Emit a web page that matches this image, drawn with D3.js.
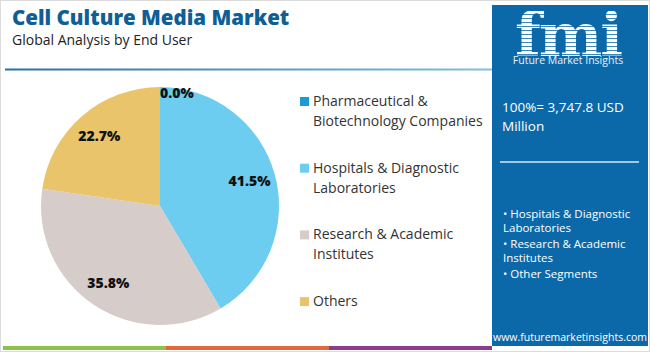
<!DOCTYPE html>
<html>
<head>
<meta charset="utf-8">
<script src="https://cdn.jsdelivr.net/npm/d3@7"></script>
<style>
  body { margin: 0; background: #fff; }
  svg { display: block; font-family: "Open Sans", sans-serif; }
</style>
</head>
<body>
<svg class="chart"></svg>
<script>
// Chart size
var width = 650;
var height = 352;

// Data
var categories = ["Pharmaceutical & Biotechnology Companies", "Hospitals & Diagnostic Laboratories", "Research & Academic Institutes", "Others"];
var legendLines = [["Pharmaceutical &", "Biotechnology Companies"], ["Hospitals & Diagnostic", "Laboratories"], ["Research & Academic", "Institutes"], ["Others"]];
var shares = [0.0, 41.5, 35.8, 22.7];
var sliceColors = ["#1b9ad7", "#6ccdf0", "#d6ccc9", "#e9c46a"];
var bulletLines = [["• Hospitals & Diagnostic", "Laboratories"], ["• Research & Academic", "Institutes"], ["• Other Segments"]];
var stripColors = ["#8bc34a", "#e0683a", "#8e3b8f"];

var svg = d3.select(".chart")
    .attr("width", width)
    .attr("height", height);

// light frame round the picture
svg.append("rect")
    .attr("x", 0.5).attr("y", 0.5)
    .attr("width", width - 1).attr("height", height - 1)
    .attr("fill", "#fff")
    .attr("stroke", "#dcdcdc");

// Title block
svg.append("text")
    .attr("x", 12).attr("y", 25)
    .attr("fill", "#0f5e96")
    .style("font-family", "'Open Sans', sans-serif")
    .style("font-weight", 800)
    .style("font-size", "20.5px")
    .text("Cell Culture Media Market");

svg.append("text")
    .attr("x", 12).attr("y", 45)
    .attr("fill", "#222")
    .style("font-size", "14px")
    .text("Global Analysis by End User");

// underline with a soft gradient
var defs = svg.append("defs");
var grad = defs.append("linearGradient").attr("id", "lineGrad");
grad.append("stop").attr("offset", "0%").attr("stop-color", "#2a6fa8");
grad.append("stop").attr("offset", "100%").attr("stop-color", "#86bde0");
svg.append("rect")
    .attr("x", 5).attr("y", 68.5)
    .attr("width", 487).attr("height", 2)
    .attr("fill", "url(#lineGrad)");

// Pie
var radius = 119;
var pieCenter = [160, 206];

var pie = d3.pie().sort(null).value(function(d) { return d; });
var arc = d3.arc().innerRadius(0).outerRadius(radius);
var labelArc = d3.arc().innerRadius(radius * 0.78).outerRadius(radius * 0.78);

var pieGroup = svg.append("g")
    .attr("transform", "translate(" + pieCenter[0] + "," + pieCenter[1] + ")");

var slices = pie(shares);

pieGroup.selectAll("path")
    .data(slices)
    .enter().append("path")
    .attr("d", arc)
    .attr("fill", function(d, i) { return sliceColors[i]; });

pieGroup.selectAll("text")
    .data(slices)
    .enter().append("text")
    .attr("transform", function(d) {
        // tiny slices get their label on the rim
        if (d.value < 1) return "translate(" + (arc.centroid(d)[0]) + "," + (-radius + 6) + ")";
        return "translate(" + labelArc.centroid(d) + ")";
    })
    .attr("text-anchor", function(d) { return d.value < 1 ? "start" : "middle"; })
    .attr("dy", "0.35em")
    .attr("fill", "#111")
    .style("font-weight", 800)
    .style("font-size", "14px")
    .text(function(d) { return d.value.toFixed(1) + "%"; });

// Legend
var legend = svg.append("g").attr("transform", "translate(300, 97)");
var item = legend.selectAll("g")
    .data(categories)
    .enter().append("g")
    .attr("transform", function(d, i) { return "translate(0," + (i * 66.7) + ")"; });

item.append("rect")
    .attr("width", 9).attr("height", 9)
    .attr("fill", function(d, i) { return sliceColors[i]; });

item.append("text")
    .attr("x", 13).attr("y", 9)
    .attr("fill", "#333")
    .style("font-size", "14px")
    .selectAll("tspan")
    .data(function(d, i) { return legendLines[i]; })
    .enter().append("tspan")
    .attr("x", 13)
    .attr("dy", function(d, i) { return i === 0 ? 0 : 20; })
    .text(function(d) { return d; });

// Right hand panel
var panel = svg.append("g");
panel.append("rect")
    .attr("x", 492).attr("y", 5)
    .attr("width", 156).attr("height", 341)
    .attr("fill", "#0c69a9");

// logo: big striped letters
var logoClip = defs.append("clipPath").attr("id", "logoClip");
logoClip.append("text")
    .attr("x", 568).attr("y", 56)
    .attr("text-anchor", "middle")
    .style("font-family", "'DejaVu Serif', serif")
    .style("font-weight", 700)
    .style("font-size", "60px")
    .style("letter-spacing", "-2px")
    .text("fmi");
var stripes = panel.append("g").attr("clip-path", "url(#logoClip)");
d3.range(11, 58, 4).forEach(function(y) {
    stripes.append("rect")
        .attr("x", 500).attr("y", y)
        .attr("width", 140).attr("height", 3.2)
        .attr("fill", "#fff");
});
panel.append("text")
    .attr("x", 568).attr("y", 64)
    .attr("text-anchor", "middle")
    .attr("fill", "#e8f2fa")
    .style("font-size", "10.5px")
    .text("Future Market Insights");

panel.append("text")
    .attr("x", 502).attr("y", 112)
    .attr("fill", "#fff")
    .style("font-size", "13.5px")
    .text("100%= 3,747.8 USD");
panel.append("text")
    .attr("x", 502).attr("y", 131)
    .attr("fill", "#fff")
    .style("font-size", "13.5px")
    .text("Million");

panel.append("rect")
    .attr("x", 500).attr("y", 161)
    .attr("width", 139).attr("height", 2)
    .attr("fill", "#9fcbe8");

var bullets = panel.append("text")
    .attr("fill", "#fff")
    .style("font-size", "11.5px");
var by = 218;
bulletLines.forEach(function(lines) {
    lines.forEach(function(line, j) {
        bullets.append("tspan")
            .attr("x", 503).attr("y", by)
            .text(line);
        by += 14;
    });
    by += 2;
});

panel.append("text")
    .attr("x", 570).attr("y", 341)
    .attr("text-anchor", "middle")
    .attr("fill", "#fff")
    .style("font-size", "10.5px")
    .text("www.futuremarketinsights.com");

// bottom colour strip
stripColors.forEach(function(c, i) {
    svg.append("rect")
        .attr("x", 3 + i * 163).attr("y", 346)
        .attr("width", 163).attr("height", 4)
        .attr("fill", c);
});
</script>
</body>
</html>
